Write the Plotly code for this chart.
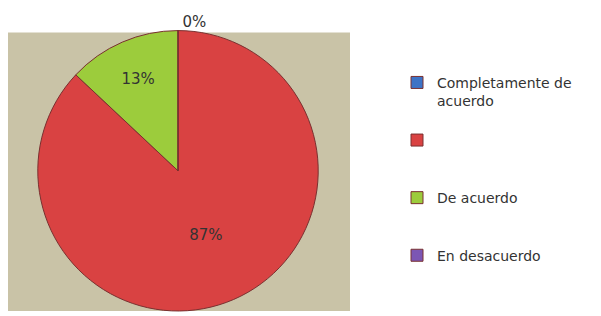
import plotly.graph_objects as go

labels = ["Completamente de<br>acuerdo<br> ", " <br> <br> ", "De acuerdo<br> <br> ", "En desacuerdo"]
values = [0, 87, 13, 0]
colors = ["#3d73c6", "#d94242", "#9ccc3c", "#7c56b4"]
text_pos = ["outside", "inside", "inside", "none"]

W, H = 593, 308  # page has an 8px body margin

fig = go.Figure()
fig.add_trace(go.Pie(
    labels=labels,
    values=values,
    sort=False,
    direction="clockwise",
    rotation=0,
    marker=dict(colors=colors, line=dict(color="#7a3030", width=1)),
    textinfo="percent",
    texttemplate="%{percent:.0%}",
    textposition=text_pos,
    insidetextorientation="horizontal",
    textfont=dict(family="DejaVu Sans", size=15, color="#333333"),
    outsidetextfont=dict(family="DejaVu Sans", size=15, color="#333333"),
    domain=dict(x=[27/W, 313/W], y=[0, 286/H]),
    showlegend=True,
    hoverinfo="skip",
))

fig.add_shape(type="rect", xref="paper", yref="paper",
              x0=0, x1=342/W, y0=0, y1=(H-24)/H,
              fillcolor="#c9c3a7", line=dict(width=0), layer="below")

fig.update_layout(
    width=W, height=H,
    margin=dict(l=0, r=0, t=0, b=0),
    paper_bgcolor="white",
    plot_bgcolor="white",
    legend=dict(x=389/W, y=1 - 59/H, xanchor="left", yanchor="top",
                valign="top", traceorder="normal",
                font=dict(family="DejaVu Sans", size=14, color="#333333"),
                bgcolor="rgba(0,0,0,0)"),
)

fig.write_html("out.html")
